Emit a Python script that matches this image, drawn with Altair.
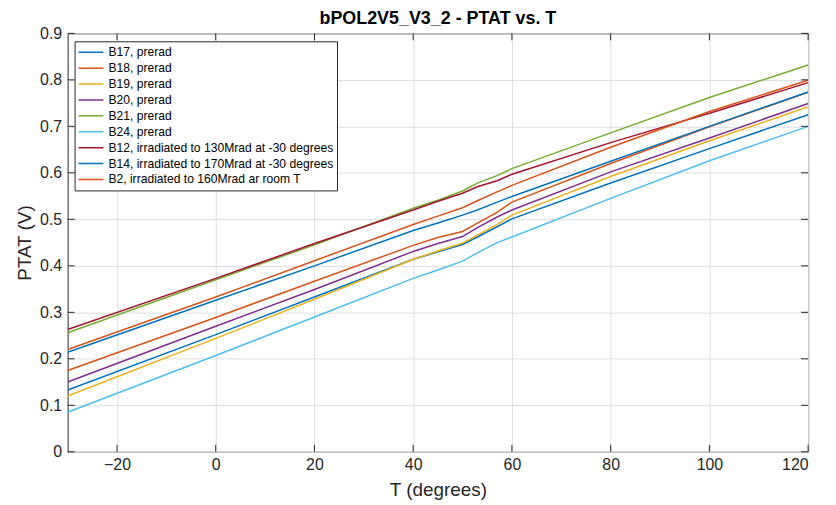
import altair as alt
import pandas as pd

# ---- data ----
T = [-30, 0, 20, 40, 45, 50, 53, 57, 60, 80, 100, 120]

series_names = [
    "B17, prerad",
    "B18, prerad",
    "B19, prerad",
    "B20, prerad",
    "B21, prerad",
    "B24, prerad",
    "B12, irradiated to 130Mrad at -30 degrees",
    "B14, irradiated to 170Mrad at -30 degrees",
    "B2, irradiated to 160Mrad ar room T",
]

B17 = [0.133, 0.252, 0.333, 0.414, 0.430, 0.446, 0.462, 0.484, 0.501, 0.578, 0.652, 0.725]
B18 = [0.175, 0.289, 0.367, 0.444, 0.461, 0.474, 0.492, 0.515, 0.537, 0.620, 0.699, 0.773]
B19 = [0.120, 0.244, 0.328, 0.414, 0.432, 0.449, 0.466, 0.489, 0.509, 0.592, 0.669, 0.742]
B20 = [0.150, 0.270, 0.349, 0.431, 0.448, 0.463, 0.482, 0.505, 0.520, 0.602, 0.675, 0.749]
B21 = [0.256, 0.370, 0.445, 0.524, 0.541, 0.561, 0.578, 0.594, 0.609, 0.686, 0.762, 0.832]
B24 = [0.085, 0.207, 0.290, 0.373, 0.391, 0.410, 0.428, 0.450, 0.462, 0.545, 0.626, 0.700]
B12 = [0.263, 0.373, 0.448, 0.520, 0.539, 0.556, 0.570, 0.583, 0.597, 0.665, 0.728, 0.794]
B14 = [0.214, 0.326, 0.400, 0.476, 0.492, 0.509, 0.520, 0.537, 0.549, 0.625, 0.700, 0.774]
B2 = [0.220, 0.333, 0.411, 0.489, 0.507, 0.525, 0.540, 0.559, 0.573, 0.655, 0.732, 0.799]

series_values = [B17, B18, B19, B20, B21, B24, B12, B14, B2]

colors = ["#0072BD", "#D95319", "#EDB120", "#7E2F8E", "#77AC30",
          "#4DBEEE", "#A2142F", "#0072BD", "#D95319"]

x_ticks = [-20, 0, 20, 40, 60, 80, 100, 120]
y_ticks = [0, 0.1, 0.2, 0.3, 0.4, 0.5, 0.6, 0.7, 0.8, 0.9]

# ---- build table ----
rows = []
for i, (name, vals) in enumerate(zip(series_names, series_values)):
    for t, v in zip(T, vals):
        rows.append({"T": t, "PTAT": v, "series": name, "order": i})
df = pd.DataFrame(rows)

W, H = 745, 421
FONT = "Liberation Sans"
AX = "#262626"

xscale = alt.Scale(domain=[-30, 120], nice=False, zero=False)
yscale = alt.Scale(domain=[0, 0.9], nice=False, zero=False)

lines = alt.Chart(df).mark_line(strokeWidth=1.5, clip=True).encode(
    x=alt.X("T:Q", scale=xscale,
            axis=alt.Axis(values=x_ticks, title="T (degrees)", format="d")),
    y=alt.Y("PTAT:Q", scale=yscale,
            axis=alt.Axis(values=y_ticks, title="PTAT (V)", format=".1~f")),
    color=alt.Color("series:N",
                    scale=alt.Scale(domain=series_names, range=colors),
                    sort=series_names,
                    legend=alt.Legend(
                        orient="none", legendX=7, legendY=8, title=None,
                        symbolType="stroke", symbolSize=625,
                        symbolStrokeWidth=1.5, clipHeight=16,
                        labelFontSize=12.2, labelFont=FONT,
                        labelColor="#000000", labelLimit=400,
                        padding=3, strokeColor=AX, fillColor="white",
                        rowPadding=0, labelOffset=4, symbolOffset=0)),
    detail="order:O",
    order="order:O",
)

xt = pd.DataFrame({"T": x_ticks})
yt = pd.DataFrame({"PTAT": y_ticks})

tick_bottom = alt.Chart(xt).mark_rule(color=AX, strokeWidth=1).encode(
    x=alt.X("T:Q", scale=xscale), y=alt.value(H), y2=alt.value(H - 7))
tick_top = alt.Chart(xt).mark_rule(color=AX, strokeWidth=1).encode(
    x=alt.X("T:Q", scale=xscale), y=alt.value(0), y2=alt.value(7))
tick_left = alt.Chart(yt).mark_rule(color=AX, strokeWidth=1).encode(
    y=alt.Y("PTAT:Q", scale=yscale), x=alt.value(0), x2=alt.value(7))
tick_right = alt.Chart(yt).mark_rule(color=AX, strokeWidth=1).encode(
    y=alt.Y("PTAT:Q", scale=yscale), x=alt.value(W), x2=alt.value(W - 7))

chart = alt.layer(lines, tick_bottom, tick_top, tick_left, tick_right).properties(
    width=W, height=H,
    title=alt.Title("bPOL2V5_V3_2 - PTAT vs. T", fontSize=18, fontWeight="bold",
                    font=FONT, color="#000000", anchor="middle", offset=-3),
    autosize=alt.AutoSizeParams(type="none"),
    padding={"left": 60, "top": 24, "right": 20, "bottom": 52},
).configure_view(
    stroke=AX, strokeWidth=1
).configure_axis(
    grid=True, gridColor="#dedede", gridWidth=1,
    domain=False, ticks=False,
    labelFont=FONT, labelFontSize=16, labelColor=AX,
    titleFont=FONT, titleFontSize=19, titleColor=AX, titleFontWeight="normal",
).configure_axisX(
    labelPadding=5, titlePadding=8
).configure_axisY(
    labelPadding=6, titlePadding=5
)

chart.save("out.html", embed_options={"renderer": "svg", "actions": False})
